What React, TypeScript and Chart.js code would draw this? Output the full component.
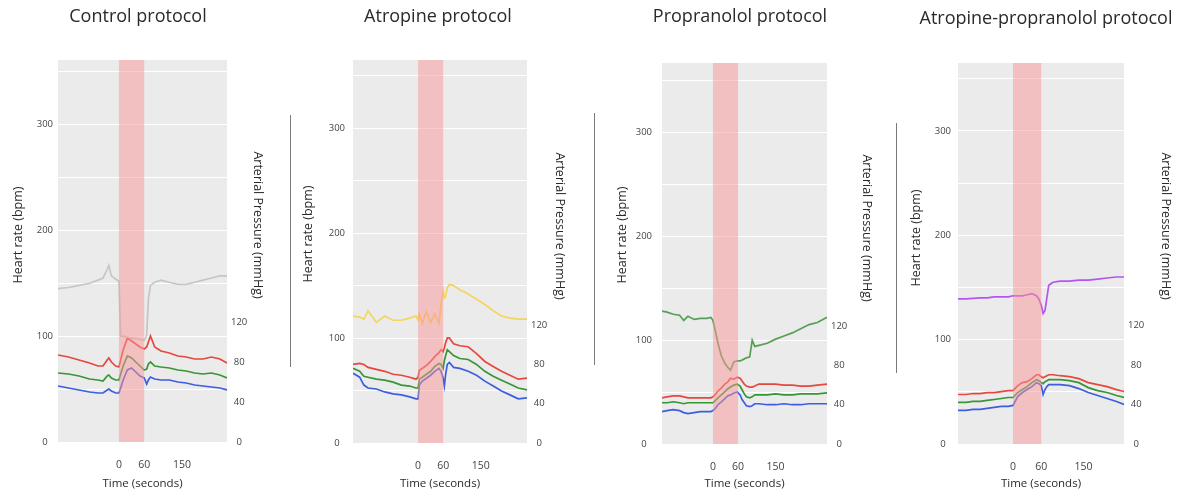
import { useEffect, useRef } from 'react';
import { Chart, registerables } from 'chart.js';

Chart.register(...registerables);

const FONT = "'Open Sans', 'DejaVu Sans', sans-serif";

// ---- ticks / labels ----
const X_TICKS = [0, 60, 150];
const HR_GRID = [0, 50, 100, 150, 200, 250, 300, 350];
const HR_LABELS = [0, 100, 200, 300];
const P_TICKS = [0, 40, 80, 120];
const BAND = [0, 60];
const HR_TITLE = 'Heart rate (bpm)';
const P_TITLE = 'Arterial Pressure (mmHg)';
const X_TITLE = 'Time (seconds)';

// ---- Control protocol ----
const ctrlTime = [-145, -120, -95, -70, -50, -38, -28, -24, -18, -8, 0, 4, 10, 20, 30, 40, 50, 60, 66, 70, 75, 85, 100, 120, 140, 160, 180, 200, 220, 240, 257];
const ctrlHR = [145, 146, 148, 150, 153, 155, 163, 167, 157, 154, 152, 100, 100, 99, 98, 98, 97, 96, 101, 135, 148, 151, 153, 151, 149, 149, 151, 153, 155, 157, 157];
const ctrlSys = [87, 85, 82, 79, 76, 76, 82, 84, 80, 76, 75, 82, 92, 104, 101, 98, 95, 93, 95, 100, 106, 95, 91, 89, 86, 85, 83, 83, 85, 83, 79];
const ctrlMean = [69, 68, 66, 63, 62, 61, 66, 67, 64, 62, 62, 68, 76, 86, 84, 80, 76, 72, 73, 78, 80, 76, 75, 74, 72, 71, 69, 68, 69, 67, 64];
const ctrlDia = [56, 54, 52, 50, 49, 49, 52, 53, 51, 49, 49, 54, 62, 72, 74, 70, 66, 64, 58, 62, 65, 63, 62, 62, 60, 59, 57, 56, 55, 54, 52];

// ---- Atropine protocol ----
const atrTime = [-156, -140, -130, -120, -100, -80, -60, -40, -20, -5, 0, 3, 10, 20, 30, 40, 50, 55, 60, 63, 66, 70, 75, 85, 100, 120, 140, 160, 180, 200, 220, 240, 261];
const atrHR = [121, 120, 118, 126, 115, 121, 117, 117, 119, 121, 117, 123, 114, 125, 115, 123, 114, 132, 145, 138, 140, 148, 151, 150, 146, 142, 137, 132, 126, 121, 119, 118, 118];
const atrSys = [80, 81, 80, 77, 75, 73, 70, 69, 67, 65, 67, 74, 76, 79, 83, 88, 92, 95, 93, 97, 102, 107, 107, 101, 99, 98, 91, 83, 78, 73, 69, 65, 66];
const atrMean = [76, 73, 68, 67, 65, 64, 62, 59, 58, 56, 56, 65, 67, 70, 73, 78, 81, 80, 76, 84, 89, 95, 93, 89, 86, 85, 80, 73, 68, 64, 60, 56, 54];
const atrDia = [71, 67, 59, 56, 55, 52, 50, 49, 47, 45, 45, 59, 63, 66, 69, 73, 76, 73, 66, 58, 70, 80, 82, 77, 76, 73, 69, 63, 58, 53, 49, 45, 46];

// ---- Propranolol protocol ----
const proTime = [-122, -110, -95, -80, -70, -60, -45, -30, -15, -5, 0, 5, 12, 20, 28, 35, 42, 50, 58, 65, 70, 75, 80, 88, 94, 100, 110, 130, 150, 170, 190, 210, 230, 250, 273];
const proHR = [128, 127, 125, 124, 119, 123, 120, 121, 121, 122, 119, 110, 97, 85, 78, 74, 71, 79, 80, 80, 81, 82, 83, 84, 100, 94, 95, 97, 101, 104, 107, 111, 115, 117, 122];
const proSys = [47, 48, 49, 49, 48, 47, 47, 47, 47, 47, 48, 50, 54, 57, 61, 63, 67, 66, 68, 67, 64, 61, 59, 58, 58, 59, 61, 61, 61, 60, 60, 59, 59, 60, 61];
const proMean = [42, 42, 43, 42, 41, 42, 42, 42, 42, 42, 42, 44, 47, 50, 53, 56, 58, 60, 61, 59, 55, 51, 48, 47, 48, 50, 50, 50, 51, 50, 50, 51, 51, 51, 52];
const proDia = [33, 34, 35, 34, 32, 31, 32, 33, 33, 33, 34, 36, 40, 43, 46, 49, 50, 52, 53, 50, 45, 42, 39, 38, 39, 41, 41, 40, 40, 41, 40, 40, 41, 41, 41];

// ---- Atropine-propranolol protocol ----
const apTime = [-117, -100, -85, -70, -55, -40, -25, -10, 0, 10, 20, 30, 40, 50, 55, 60, 64, 68, 72, 76, 85, 100, 120, 140, 160, 180, 200, 220, 236];
const apHR = [139, 139, 139.5, 140, 140, 141, 141, 141, 142, 142, 142, 143, 144, 142, 139, 133, 125, 128, 140, 152, 155, 156, 156, 157, 157, 158, 159, 160, 160];
const apSys = [50, 50, 51, 51, 52, 52, 53, 54, 54, 59, 62, 63, 66, 70, 70, 68, 67, 68, 69, 70, 70, 69, 68, 66, 62, 60, 58, 55, 53];
const apMean = [42, 42, 43, 43, 44, 45, 46, 47, 47, 52, 55, 58, 62, 65, 64, 62, 61, 63, 64, 65, 65, 65, 64, 62, 57, 54, 52, 49, 47];
const apDia = [34, 34, 35, 35, 36, 37, 38, 38, 39, 48, 52, 55, 58, 62, 61, 59, 50, 55, 58, 60, 60, 60, 59, 56, 52, 49, 46, 43, 40];

const SYS_COLOR = '#e5483f';
const MEAN_COLOR = '#379636';
const DIA_COLOR = '#3d5ee0';

const PANELS = [
  {
    title: 'Control protocol', x: 0, w: 276, titleY: 17,
    plotL: 58, plotR: 227, plotT: 60, plotB: 442,
    xMin: -145, xMax: 257, hrMax: 361, pMax: 382, lPad: 5,
    lTitle: [18, 235], rTitle: [258, 225],
    time: ctrlTime, hr: ctrlHR, hrColor: '#c6c6c6', sys: ctrlSys, mean: ctrlMean, dia: ctrlDia,
  },
  {
    title: 'Atropine protocol', x: 300, w: 276, titleY: 17,
    plotL: 353, plotR: 527, plotT: 60, plotB: 443,
    xMin: -156, xMax: 261, hrMax: 365, pMax: 390, lPad: 8,
    lTitle: [8, 234], rTitle: [260, 226],
    time: atrTime, hr: atrHR, hrColor: '#f3d55f', sys: atrSys, mean: atrMean, dia: atrDia,
  },
  {
    title: 'Propranolol protocol', x: 607, w: 266, titleY: 17,
    plotL: 662, plotR: 827, plotT: 63, plotB: 444,
    xMin: -122, xMax: 273, hrMax: 367, pMax: 388, lPad: 10,
    lTitle: [15, 235], rTitle: [260, 228],
    time: proTime, hr: proHR, hrColor: '#56a056', sys: proSys, mean: proMean, dia: proDia,
  },
  {
    title: 'Atropine-propranolol protocol', x: 906, w: 280, titleY: 19,
    plotL: 958, plotR: 1124, plotT: 63, plotB: 444,
    xMin: -117, xMax: 236, hrMax: 365, pMax: 385, lPad: 7,
    lTitle: [10, 238], rTitle: [260, 226],
    time: apTime, hr: apHR, hrColor: '#b455f2', sys: apSys, mean: apMean, dia: apDia,
  },
];

const SEPARATORS = [
  { x: 290, top: 115, bottom: 367 },
  { x: 594, top: 113, bottom: 365 },
  { x: 896, top: 123, bottom: 373 },
];

const H = 497;
const TITLE_SIZE = 18;

const decor = {
  id: 'decor',
  beforeDraw(chart: any) {
    const { ctx, chartArea: a } = chart;
    ctx.save();
    ctx.fillStyle = '#ebebeb';
    ctx.fillRect(a.left, a.top, a.right - a.left, a.bottom - a.top);
    ctx.restore();
  },
  afterDatasetsDraw(chart: any) {
    const { ctx, chartArea: a, scales } = chart;
    const x0 = scales.x.getPixelForValue(BAND[0]);
    const x1 = scales.x.getPixelForValue(BAND[1]);
    ctx.save();
    ctx.fillStyle = 'rgba(250,150,150,0.5)';
    ctx.fillRect(x0, a.top, x1 - x0, a.bottom - a.top);
    ctx.restore();
  },
  afterDraw(chart: any, _args: any, opts: any) {
    const { ctx } = chart;
    ctx.save();
    ctx.fillStyle = '#2a2a2a';
    ctx.font = `12.5px ${FONT}`;
    ctx.textAlign = 'center';
    ctx.textBaseline = 'middle';
    ctx.save();
    ctx.translate(opts.left[0], opts.left[1]);
    ctx.rotate(-Math.PI / 2);
    ctx.fillText(HR_TITLE, 0, 0);
    ctx.restore();
    ctx.save();
    ctx.translate(opts.right[0], opts.right[1]);
    ctx.rotate(Math.PI / 2);
    ctx.fillText(P_TITLE, 0, 0);
    ctx.restore();
    ctx.restore();
  },
};

function line(label: string, t: number[], v: number[], color: string, axis: string) {
  return {
    type: 'line' as const,
    label,
    data: t.map((x, i) => ({ x, y: v[i] })),
    borderColor: color,
    backgroundColor: color,
    borderWidth: 1.7,
    pointRadius: 0,
    tension: 0,
    yAxisID: axis,
  };
}

function Panel({ p }: { p: (typeof PANELS)[number] }) {
  const ref = useRef<HTMLCanvasElement | null>(null);
  useEffect(() => {
    const canvas = ref.current;
    if (!canvas) return;
    const titleLH = TITLE_SIZE * 1.2;
    const padTop = p.titleY - titleLH / 2;
    const padBottom = p.plotT - titleLH - padTop;
    const chart = new Chart(canvas, {
      type: 'line',
      data: {
        datasets: [
          line('Heart rate', p.time, p.hr, p.hrColor, 'y'),
          line('Systolic', p.time, p.sys, SYS_COLOR, 'y1'),
          line('Mean', p.time, p.mean, MEAN_COLOR, 'y1'),
          line('Diastolic', p.time, p.dia, DIA_COLOR, 'y1'),
        ],
      },
      options: {
        animation: false,
        responsive: false,
        devicePixelRatio: 1,
        layout: { padding: 0 },
        plugins: {
          legend: { display: false },
          tooltip: { enabled: false },
          title: {
            display: true,
            text: p.title,
            color: '#2a2a2a',
            font: { family: FONT, size: TITLE_SIZE, weight: 'normal' },
            padding: { top: padTop, bottom: padBottom },
          },
          decor: { left: p.lTitle, right: p.rTitle },
        } as any,
        scales: {
          x: {
            type: 'linear',
            min: p.xMin,
            max: p.xMax,
            afterFit: (s: any) => { s.height = H - p.plotB; },
            afterBuildTicks: (s: any) => { s.ticks = X_TICKS.map((v) => ({ value: v })); },
            grid: { display: false },
            border: { display: false },
            ticks: {
              autoSkip: false, maxRotation: 0, padding: 9,
              color: '#444', font: { family: FONT, size: 10.5 },
              callback: (v: any) => String(v),
            },
            title: {
              display: true, text: X_TITLE, color: '#2a2a2a',
              font: { family: FONT, size: 11.5 },
              padding: { top: 0, bottom: 6 },
            },
          },
          y: {
            type: 'linear',
            position: 'left',
            min: 0,
            max: p.hrMax,
            afterFit: (s: any) => { s.width = p.plotL - p.x; },
            afterBuildTicks: (s: any) => { s.ticks = HR_GRID.map((v) => ({ value: v })); },
            grid: { color: '#ffffff', lineWidth: 1, drawTicks: false },
            border: { display: false },
            ticks: {
              autoSkip: false, crossAlign: 'center', padding: p.lPad,
              color: '#444', font: { family: FONT, size: 9.5 },
              callback: (v: any) => (HR_LABELS.includes(v) ? String(v) : ''),
            },
          },
          y1: {
            type: 'linear',
            position: 'right',
            min: 0,
            max: p.pMax,
            afterFit: (s: any) => { s.width = p.x + p.w - p.plotR; },
            afterBuildTicks: (s: any) => { s.ticks = P_TICKS.map((v) => ({ value: v })); },
            grid: { display: false, drawTicks: false },
            border: { display: false },
            ticks: {
              autoSkip: false, crossAlign: 'center', padding: 4,
              color: '#444', font: { family: FONT, size: 9.5 },
              callback: (v: any) => String(v),
            },
          },
        },
      } as any,
      plugins: [decor as any],
    });
    return () => chart.destroy();
  }, [p]);
  return (
    <canvas
      ref={ref}
      width={p.w}
      height={H}
      style={{ position: 'absolute', left: p.x, top: 0, width: p.w, height: H }}
    />
  );
}

export default function App() {
  return (
    <div style={{ position: 'absolute', left: 0, top: 0, width: 1188, height: H, background: '#fff', overflow: 'hidden' }}>
      {PANELS.map((p) => (
        <Panel key={p.title} p={p} />
      ))}
      {SEPARATORS.map((s, i) => (
        <div
          key={i}
          style={{ position: 'absolute', left: s.x, top: s.top, width: 1, height: s.bottom - s.top, background: '#7a7a7a' }}
        />
      ))}
    </div>
  );
}
